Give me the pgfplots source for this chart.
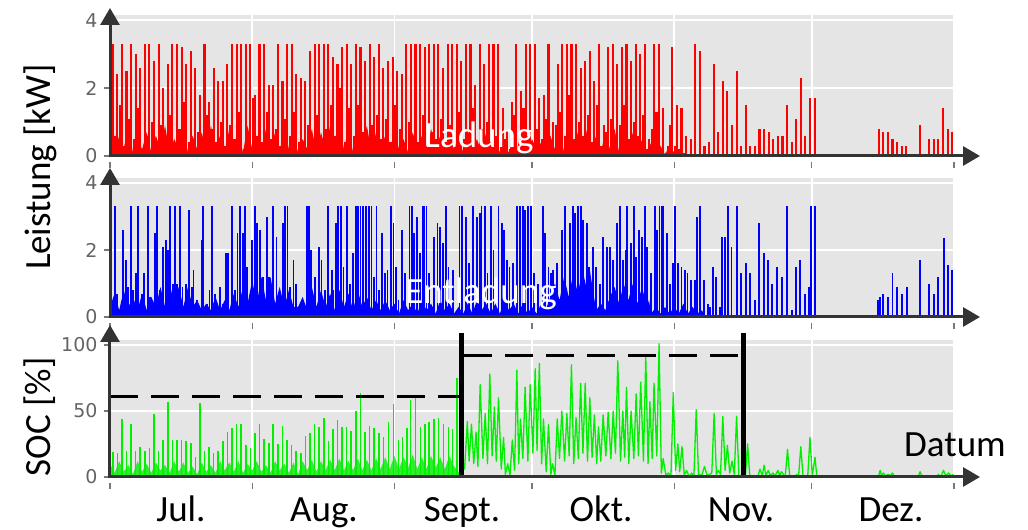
\documentclass[border=0pt]{standalone}
\usepackage{fontspec}
\setmainfont{Carlito}
\newfontfamily\tickfont{DejaVu Sans}
\usepackage{pgfplots}
\pgfplotsset{compat=1.18}
\usepackage{pgfplotstable}
\usetikzlibrary{arrows.meta}

\definecolor{panelbg}{RGB}{229,229,229}
\definecolor{axgray}{RGB}{51,51,51}
\definecolor{tickgray}{RGB}{120,120,120}
\definecolor{labgray}{RGB}{100,100,100}
\definecolor{socgreen}{RGB}{0,240,0}

% Ladung: daily peak r1 and secondary value r2 (kW)
\pgfplotstableread{
d r1 r2
0 3.3 2.1
1 2.4 0.6
2 3.3 1.5
3 2.5 0.3
4 3.3 1.1
5 3.0 0.5
6 2.6 1.4
7 3.3 0.2
8 3.3 0.6
9 2.8 1.0
10 3.3 0.4
11 2.0 0.9
12 2.7 0.2
13 3.3 1.2
14 3.3 0.3
15 3.2 0.8
16 2.7 1.6
17 3.1 0.4
18 2.6 0.2
19 1.8 0.7
20 3.3 0.3
21 1.6 1.2
22 2.6 0.8
23 2.2 0.4
24 2.2 1.0
25 2.7 0.3
26 3.3 0.9
27 3.3 0.5
28 3.3 1.3
29 3.3 0.2
30 3.3 0.7
31 1.8 1.7
32 3.3 0.6
33 3.3 0.4
34 2.1 1.3
35 2.1 0.5
36 3.3 0.8
37 2.2 0.3
38 3.3 1.1
39 3.3 0.6
40 2.4 1.3
41 2.3 0.4
42 2.2 0.3
43 3.1 0.9
44 3.3 0.5
45 3.3 1.2
46 3.3 0.3
47 3.3 0.8
48 2.9 1.5
49 2.7 0.6
50 3.2 2.0
51 3.3 0.4
52 2.7 1.4
53 3.3 0.6
54 3.2 1.5
55 2.8 0.7
56 3.3 0.4
57 2.9 0.9
58 3.3 1.2
59 2.6 0.5
60 2.8 1.1
61 2.9 0.4
62 2.5 1.5
63 2.4 0.8
64 3.3 0.3
65 3.3 1.0
66 3.3 0.6
67 3.3 0.4
68 3.2 1.2
69 3.3 0.3
70 3.3 0.7
71 3.3 0.5
72 2.6 1.1
73 3.3 0.4
74 3.3 0.9
75 3.3 0.3
76 2.8 1.3
77 3.3 0.5
78 3.3 0.6
79 2.1 1.4
80 3.3 0.3
81 2.7 0.8
82 3.3 1.0
83 3.3 0.4
84 3.3 0.6
85 1.4 0.3
86 0.8 0.5
87 1.6 0.2
88 3.3 1.2
89 1.9 0.4
90 3.3 1.4
91 3.3 0.6
92 3.3 0.3
93 1.7 0.8
94 1.8 0.5
95 3.3 1.1
96 1.0 0.4
97 2.7 0.9
98 3.3 1.3
99 3.3 0.6
100 3.3 1.8
101 3.3 0.5
102 2.6 1.0
103 2.8 0.6
104 3.1 1.2
105 2.2 0.4
106 3.3 1.5
107 0.9 0.3
108 3.2 0.7
109 3.3 1.1
110 2.7 0.4
111 3.2 0.9
112 3.3 1.5
113 2.8 0.5
114 3.3 1.0
115 3.0 0.6
116 3.3 1.2
117 0.5 0.2
118 3.3 0.8
119 3.3 1.3
120 1.4 0.2
121 0.3 0.1
122 3.2 0.9
123 1.5 0.3
124 1.4 0.2
125 0.6 0.1
126 0.5 0
127 3.3 0
128 3.1 0
129 0.3 0
130 0.4 0
131 2.7 0
132 0.7 0
133 2.2 0
134 1.9 0
135 0.9 0
136 2.5 0
137 0.3 0
138 1.5 0
139 0.3 0
140 0.3 0
141 0.8 0
142 0.8 0
143 0.7 0
144 0.5 0
145 0.6 0
146 0.6 0
147 1.5 0
148 0.4 0
149 1.1 0
150 2.3 0
151 0.6 0
152 1.7 0
153 1.7 0
167 0.8 0
168 0.7 0
169 0.7 0
170 0.5 0
171 0.4 0
172 0.3 0
173 0.3 0
176 0.9 0
177 0.05 0
178 0.5 0
179 0.5 0
180 0.5 0
181 1.4 0
182 0.8 0
183 0.7 0
}\redtab

\tikzset{axisarrow/.style={draw=axgray, line width=3pt, -{Triangle[length=17pt,width=19pt]}}}

\pgfplotsset{
  panel/.style={
    scale only axis, width=844pt,
    xmin=0, xmax=184, ymin=0,
    axis background/.style={fill=panelbg},
    axis line style={draw=none},
    grid=major, grid style={white, line width=1.6pt},
    xtick={0,31,62,92,123,153,184}, xticklabels={},
    xtick pos=bottom, ytick pos=left, tick align=outside,
    major tick length=6pt,
    xtick style={draw=tickgray, line width=1.3pt, yshift=-6pt},
    ytick style={draw=tickgray, line width=1.3pt},
    yticklabel style={font=\tickfont\fontsize{19}{19}\selectfont, text=labgray, xshift=-3pt},
    /pgf/number format/assume math mode=true,
    clip=false, no markers,
  },
}

\begin{document}
\begin{tikzpicture}
\path[use as bounding box] (0,0) rectangle (1028pt,530pt);

% ---------------- Ladung ----------------
\begin{axis}[panel, at={(110pt,374pt)}, anchor=south west,
  height=141pt, ymax=4.15, ytick={0,2,4}]
\addplot[fill=red, draw=none] coordinates {
(0,0.8) (1,0.1) (2,0.6) (3,0.2) (4,0.9) (5,0.1) (6,0.5) (7,0.2) (8,0.7) (9,0.1) (10,0.6) (11,0.2) (12,0.9) (13,0.1) (14,0.5) (15,0.2) (16,0.8) (17,0.1) (18,0.6) (19,0.2) (20,0.7) (21,0.1) (22,0.9) (23,0.2) (24,0.6) (25,0.1) (26,0.8) (27,0.2) (28,0.7) (29,0.1) (30,0.9) (31,0.2) (32,0.6) (33,0.1) (34,0.8) (35,0.2) (36,0.7) (37,0.1) (38,0.9) (39,0.2) (40,0.6) (41,0.1) (42,0.5) (43,0.2) (44,0.8) (45,0.1) (46,0.7) (47,0.2) (48,0.9) (49,0.1) (50,1.0) (51,0.2) (52,0.8) (53,0.1) (54,1.1) (55,0.2) (56,0.9) (57,0.1) (58,0.7) (59,0.2) (60,0.6) (61,0.1) (62,0.8) (63,0.2) (64,0.5) (65,0.1) (66,0.7) (67,0.2) (68,0.6) (69,0.1) (70,0.8) (71,0.2) (72,0.6) (73,0.1) (74,0.7) (75,0.2) (76,0.6) (77,0.1) (78,0.8) (79,0.2) (80,0.5) (81,0.1) (82,0.7) (83,0.2) (84,0.5) (85,0.1) (86,0.3) (87,0.1) (88,0.6) (89,0.2) (90,0.7) (91,0.1) (92,0.5) (93,0.2) (94,0.4) (95,0.1) (96,0.6) (97,0.2) (98,0.8) (99,0.1) (100,0.9) (101,0.2) (102,0.7) (103,0.1) (104,0.8) (105,0.2) (106,0.6) (107,0.1) (108,0.7) (109,0.2) (110,0.8) (111,0.1) (112,0.6) (113,0.2) (114,0.7) (115,0.1) (116,0.5) (117,0.1) (118,0.4) (119,0.2) (120,0.3) (121,0.05) (122,0.3) (123,0.1) (124,0.2) (125,0.05) (126,0)
} \closedcycle;
\addplot[ycomb, draw=red, line width=2.1pt] table[x expr=\thisrow{d}+0.15, y=r2] {\redtab};
\addplot[ycomb, draw=red, line width=2.1pt] table[x expr=\thisrow{d}+0.6, y=r1] {\redtab};
\draw[axisarrow] (axis cs:0,0) ++(-1.5pt,0) -- ++(871.5pt,0pt);
\draw[axisarrow] (axis cs:0,0) ++(0,-1.5pt) -- ++(0,149.5pt);
\end{axis}

% ---------------- Entladung ----------------
\begin{axis}[panel, at={(110pt,213pt)}, anchor=south west,
  height=139pt, ymax=4.15, ytick={0,2,4}]
\addplot[fill=blue, draw=none] coordinates {
(0,0.3) (1,0.7) (2,0.2) (3,0.8) (4,0.3) (5,0.6) (6,0.2) (7,0.7) (8,0.2) (9,0.6) (10,0.3) (11,0.9) (12,0.3) (13,1.0) (14,0.4) (15,0.9) (16,0.3) (17,0.9) (18,0.3) (19,0.5) (20,0.2) (21,0.4) (22,0.2) (23,0.6) (24,0.2) (25,0.5) (26,0.2) (27,0.7) (28,0.3) (29,0.9) (30,0.4) (31,1.1) (32,0.4) (33,1.2) (34,0.5) (35,1.2) (36,0.4) (37,0.9) (38,0.3) (39,0.8) (40,0.3) (41,0.3) (42,0.6) (43,0.2) (44,0.9) (45,0.3) (46,0.8) (47,0.3) (48,0.7) (49,0.2) (50,0.8) (51,0.3) (52,0.7) (53,0.2) (54,0.8) (55,0.3) (56,0.6) (57,0.2) (58,0.5) (59,0.2) (60,0.5) (61,0.2) (62,0.4) (63,0.1) (64,0.5) (65,0.2) (66,0.4) (67,0.1) (68,0.5) (69,0.2) (70,0.4) (71,0.1) (72,0.5) (73,0.2) (74,0.4) (75,0.1) (76,0.3) (77,0.1) (78,0.4) (79,0.1) (80,0.5) (81,0.2) (82,0.4) (83,0.1) (84,0.4) (85,0.1) (86,0.5) (87,0.2) (88,0.4) (89,0.1) (90,0.4) (91,0.1) (92,0.3) (93,0.1) (94,0.4) (95,0.2) (96,0.6) (97,1.0) (98,0.5) (99,1.2) (100,0.6) (101,1.3) (102,0.7) (103,1.4) (104,0.8) (104.5,1.5) (105.5,0.6) (106,0.2) (107,0.4) (108,0.2) (109,0.6) (110,0.9) (111,0.4) (112,1.0) (113,0.5) (114,1.0) (115,0.4) (116,0.9) (117,0.3) (117.5,0.5) (118,0.1) (119,0.3) (120,0.1) (121,0.3) (122,0.1) (123,0.3) (124,0.1) (125,0.4) (126,0.1) (127,0.3) (128,0.1) (129,0.2) (130,0)
} \closedcycle;
\addplot[ycomb, draw=blue, line width=1.9pt] coordinates {
(0.4,0.3) (1.1,3.3) (1.5,0.7) (2.8,2.6) (3.5,1.7) (4.0,0.9) (4.5,3.3) (5.1,0.8) (5.7,1.3) (6.2,3.3) (6.9,0.7) (7.5,1.3) (8.2,3.3) (8.7,0.6) (9.8,2.5) (10.3,3.3) (10.9,0.8) (11.6,2.1) (12.2,2.3) (12.6,2.0) (13.1,3.3) (13.7,1.0) (14.2,3.3) (14.7,1.0) (15.3,3.3) (15.8,0.9) (16.6,1.0) (17.2,3.2) (17.8,0.9) (18.2,1.4) (18.9,0.5) (19.5,0.3) (20.0,2.3) (20.2,3.3) (21.1,0.4) (21.7,0.8) (22.2,3.3) (22.9,0.7) (24.0,0.9) (24.7,0.4) (25.3,1.9) (25.8,1.9) (26.5,3.3) (27.3,0.8) (27.8,2.5) (28.3,3.3) (28.9,2.5) (29.4,3.3) (29.9,1.5) (30.9,2.3) (31.6,3.3) (32.1,2.8) (32.7,2.6) (33.4,1.2) (34.2,3.0) (34.7,1.2) (35.6,3.3) (36.3,2.4) (37.1,0.7) (37.8,2.8) (38.1,3.3) (38.7,3.3) (39.2,0.9) (40.0,1.7) (40.5,1.0) (41.8,0.3) (42.9,3.3) (43.4,3.3) (43.9,2.0) (44.7,1.2) (45.6,2.1) (46.1,1.7) (46.9,0.8) (47.6,3.3) (48.3,1.4) (48.7,0.8) (49.3,2.8) (49.8,3.3) (50.3,3.3) (50.9,1.5) (51.6,3.3) (52.3,1.0) (53.0,1.9) (53.6,3.3) (54.1,3.3) (54.6,3.3) (55.2,3.3) (55.9,3.3) (56.5,3.3) (57.0,3.3) (57.6,1.2) (58.1,3.3) (58.7,0.8)
(59.2,2.5) (59.9,1.3) (60.5,1.4) (61.3,3.3) (61.8,2.8) (62.4,1.5) (62.9,0.5) (63.7,2.6) (64.3,1.3) (65.3,3.3) (65.8,3.3) (66.3,2.5) (66.9,3.0) (67.6,1.9) (68.2,3.3) (68.5,3.3) (69.0,3.3) (69.6,1.3) (70.7,2.4) (71.4,2.8) (71.9,2.7) (72.5,2.2) (73.2,3.3) (73.8,1.5) (74.7,1.4) (76.2,3.3) (76.7,3.3) (77.6,3.0) (78.3,1.6) (79.2,3.3) (80.1,3.0) (80.7,3.1) (81.0,3.3) (81.8,3.3) (82.3,1.3) (83.1,3.3) (83.6,2.0) (84.7,3.3) (85.4,2.8) (85.9,2.6) (86.5,1.7) (87.1,1.5) (87.8,1.6) (88.7,3.3) (89.4,3.3) (90.0,3.3) (90.5,3.2) (91.1,3.3) (91.8,3.3) (92.4,1.3) (93.4,1.0) (94.3,3.3) (94.8,2.5) (95.6,1.5) (96.1,1.3) (96.6,1.4) (97.4,1.6) (98.5,2.6) (99.2,3.3) (100.3,2.8) (100.9,3.3) (101.4,3.1) (102.1,3.3) (102.6,3.3) (103.2,2.9) (103.9,2.8) (104.5,1.5) (105.2,2.1) (106.0,1.5) (106.8,1.0) (107.4,2.4) (108.3,2.1) (109.0,2.1) (109.6,1.7) (110.5,2.8) (111.2,3.3) (111.9,1.7) (112.4,2.0) (112.8,3.3) (113.5,2.2) (114.2,3.3) (114.7,1.8) (115.4,2.6) (115.9,2.4) (116.6,3.3) (117.1,2.1) (117.9,1.3) (118.8,3.3) (119.3,2.6) (119.8,3.3) (120.3,3.3) (120.6,3.3) (121.4,2.5) (122.1,1.0) (122.8,1.6) (123.2,3.3) (123.9,1.6) (124.6,1.5) (125.4,1.4) (125.9,1.3) (126.6,1.1) (127.5,1.1) (128.0,3.0) (128.6,3.3) (129.5,1.1) (130.4,0.4) (130.8,0.3) (131.5,1.5) (132.1,1.2) (133.0,0.3) (133.5,2.4) (134.1,2.4) (134.65,3.3) (135.5,2.1) (136.6,3.3)
(137.5,1.3) (138.6,1.6) (139.5,1.3) (140.6,0.5) (141.5,2.8) (142.6,1.9) (143.5,1.7) (144.4,1.0) (145.5,1.5) (146.5,1.2) (147.55,3.3) (148.6,0.2) (149.5,1.5) (150.5,1.7) (151.6,0.7) (152.4,0.9) (152.8,3.3) (153.65,3.3) (167.5,0.5) (167.9,0.6) (168.6,0.7) (169.7,0.6) (170.6,1.3) (171.6,0.9) (172.6,0.7) (173.7,0.9) (176.6,1.7) (177.7,0.05) (178.6,1.0) (179.6,0.7) (180.6,1.2) (181.75,2.35) (182.65,1.55) (183.6,1.4)
};
\draw[axisarrow] (axis cs:0,0) ++(-1.5pt,0) -- ++(871.5pt,0pt);
\draw[axisarrow] (axis cs:0,0) ++(0,-1.5pt) -- ++(0,150.5pt);
\end{axis}

% ---------------- SOC ----------------
\begin{axis}[panel, at={(110pt,53pt)}, anchor=south west,
  height=137pt, ymax=103.8, ytick={0,50,100}]
% dense low band, July to mid-September
\addplot[fill=socgreen, fill opacity=0.8, draw=none] coordinates {
(0,10) (1,3) (2,12) (3,4) (4,9) (5,2) (6,12) (7,4) (8,10) (9,3) (10,11) (11,5) (12,9) (13,3) (14,12) (15,4) (16,11) (17,3) (18,8) (19,2) (20,11) (21,4) (22,9) (23,3) (24,12) (25,5) (26,11) (27,4) (28,12) (29,3) (30,10) (31,5) (32,12) (33,4) (34,9) (35,3) (36,12) (37,5) (38,10) (39,3) (40,11) (41,2) (42,12) (43,5) (44,13) (45,4) (46,12) (47,5) (48,13) (49,5) (50,14) (51,5) (52,12) (53,5) (54,14) (55,5) (56,13) (57,5) (58,14) (59,6) (60,15) (61,6) (62,16) (63,6) (64,15) (65,7) (66,17) (67,6) (68,15) (69,6) (70,16) (71,7) (72,15) (73,6) (74,16) (75,8) (76,4) (76.5,0)
} \closedcycle;
% daily SOC peaks, July to mid-September
\addplot[ycomb, draw=socgreen, line width=1.6pt] coordinates {
(0.6,19) (1.6,18) (2.6,44) (3.6,20) (4.6,40) (5.6,20) (6.6,23) (7.6,20) (8.6,22) (9.6,48) (10.6,20) (11.6,28) (12.6,57) (13.6,28) (14.6,28) (15.6,28) (16.6,27) (17.6,26) (18.6,15) (19.6,56) (20.6,20) (21.6,23) (22.6,18) (23.6,20) (24.6,27) (25.6,34) (26.6,37) (27.6,40) (28.6,40) (29.6,24) (30.6,22) (31.6,33) (32.6,40) (33.6,29) (34.6,26) (35.6,40) (36.6,25) (37.6,39) (38.6,28) (39.6,24) (40.6,20) (41.6,18) (42.6,31) (43.6,33) (44.6,40) (45.6,38) (46.6,45) (47.6,27) (48.6,36) (49.6,43) (50.6,38) (51.6,38) (52.6,35) (53.6,50) (54.6,64) (55.6,34) (56.6,39) (57.6,37) (58.6,33) (59.6,30) (60.7,42) (61.8,55) (62.9,28) (63.8,30) (64.7,37) (65.5,58) (66.6,60) (67.7,38) (68.7,40) (69.6,42) (70.6,44) (71.6,45) (72.7,40) (73.8,38) (74.7,36) (75.7,75)
};
% SOC course, mid-September to December
\addplot[sharp plot, draw=socgreen, line width=1.3pt, line join=round] coordinates {
(76.3,8) (77.3,6) (77.9,42) (78.3,12) (78.8,40) (79.3,10) (79.8,34) (80.2,8) (80.7,70) (81.3,14) (81.8,48) (82.3,10) (82.8,78) (83.3,16) (83.8,53) (84.2,12) (84.7,60) (85.3,6) (85.8,30) (86.2,2) (86.7,10) (87.2,1) (87.7,28) (88.2,5) (88.7,81) (89.1,10) (89.5,44) (90.0,14) (90.5,68) (91.1,12) (91.6,70) (92.2,18) (92.7,82) (93.1,20) (93.6,86) (94.1,10) (94.5,44) (95.1,4) (95.6,40) (96.1,2) (96.5,10) (97.0,1) (97.5,44) (98.0,14) (98.5,50) (99.1,12) (99.6,48) (100.1,16) (100.6,85) (101.1,10) (101.6,45) (102.1,14) (102.6,71) (103.1,18) (103.6,71) (104.1,12) (104.6,60) (105.1,15) (105.6,47) (106.1,10) (106.5,38) (107.0,12) (107.5,47) (108.1,16) (108.6,49) (109.2,14) (109.7,50) (110.2,18) (110.7,88) (111.3,12) (111.8,50) (112.2,15) (112.6,68) (113.1,10) (113.6,50) (114.2,14) (114.7,63) (115.2,16) (115.7,72) (116.3,12) (116.8,91) (117.3,10) (117.7,57) (118.2,14) (118.6,71) (119.2,16) (119.7,101) (120.2,3) (120.6,14) (121.2,1) (121.7,3) (122.3,1) (122.8,64) (123.3,5) (123.8,25) (124.2,4) (124.7,23) (125.2,1) (125.7,5) (126.3,0) (126.8,3) (127.3,1) (127.8,51) (128.3,2) (129.0,1) (129.6,8) (130.2,1) (131.2,3) (131.7,48) (132.2,2) (132.6,5) (133.1,2) (133.6,46) (134.1,5) (134.6,24) (135.1,3) (135.6,12) (136.1,2) (136.6,46) (137.1,1) (138.5,0) (139.0,25) (139.5,0) (140.5,1) (141.2,0) (141.7,6) (142.2,1) (142.6,9) (143.0,1) (143.5,5) (144.0,1) (144.5,3) (145.0,1) (145.6,5) (146.0,1) (146.4,4) (147.2,0) (147.7,21) (148.2,0) (149.2,0) (149.7,2) (150.1,0) (150.6,23) (151.1,0) (152.1,0) (152.6,30) (153.1,1) (153.7,15) (154.1,0) (167.5,0) (167.9,5) (168.2,1) (168.6,3) (169.1,1) (169.7,2) (170.1,1) (170.6,3) (171.1,0) (172.8,1) (173.3,0) (176.2,0) (176.6,4) (177.1,0) (178.8,1) (179.3,0) (180.2,0) (180.6,2) (181.1,0) (181.7,5) (182.2,1) (182.8,3) (183.3,1) (183.9,2)
};
% SOC limits (dashed) and period boundaries
\addplot[black, line width=3.5pt, dash pattern=on 28pt off 13pt] coordinates {(0,61) (76.7,61)};
\addplot[black, line width=3.5pt, dash pattern=on 28pt off 13pt] coordinates {(77.2,92) (138.0,92)};
\addplot[black, line width=5pt] coordinates {(76.7,0) (76.7,109)};
\addplot[black, line width=5pt] coordinates {(138.0,0) (138.0,109)};
\draw[axisarrow] (axis cs:0,0) ++(-1.5pt,0) -- ++(871.5pt,0pt);
\draw[axisarrow] (axis cs:0,0) ++(0,-1.5pt) -- ++(0,153.5pt);
\end{axis}

% ---------------- texts ----------------
\node[rotate=90, font=\fontsize{37}{40}\selectfont] at (40pt,363pt) {Leistung [kW]};
\node[rotate=90, font=\fontsize{37}{40}\selectfont] at (40pt,113pt) {SOC [\%]};
\foreach \x/\m in {181/Jul., 324/Aug., 462/Sept., 601/Okt., 741/Nov., 891/Dez.}
  \node[anchor=base, font=\fontsize{37}{40}\selectfont] at (\x pt,8pt) {\m};
\node[anchor=base, font=\fontsize{37}{40}\selectfont] at (955pt,73pt) {Datum};
\node[anchor=base, text=white, font=\fontsize{37}{40}\selectfont] at (479pt,382pt) {Ladung};
\node[anchor=base, text=white, font=\fontsize{37}{40}\selectfont] at (481pt,226pt) {Entladung};
\end{tikzpicture}
\end{document}
